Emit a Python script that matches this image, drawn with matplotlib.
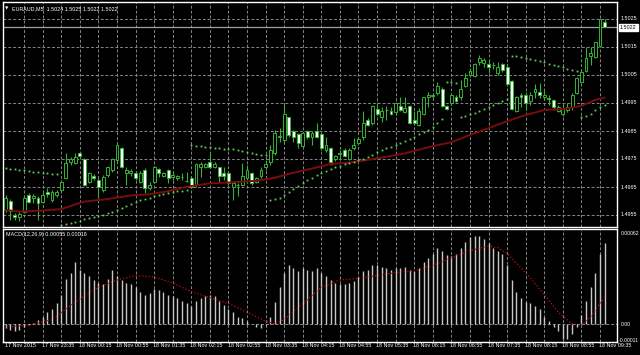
import matplotlib
matplotlib.use("Agg")
import matplotlib.pyplot as plt
from matplotlib import font_manager
from matplotlib.transforms import blended_transform_factory

# ── data (EURAUD M5, 130 bars) ──
opens = [1.49568, 1.49601, 1.49550, 1.49542, 1.49562, 1.49621, 1.49610, 1.49612, 1.49598, 1.49633,
         1.49604, 1.49621, 1.49639, 1.49681, 1.49740, 1.49735, 1.49773, 1.49749, 1.49669, 1.49690,
         1.49675, 1.49639, 1.49693, 1.49711, 1.49746, 1.49788, 1.49699, 1.49699, 1.49701, 1.49669,
         1.49711, 1.49645, 1.49669, 1.49713, 1.49689, 1.49711, 1.49685, 1.49681, 1.49685, 1.49672,
         1.49681, 1.49657, 1.49720, 1.49720, 1.49739, 1.49723, 1.49720, 1.49699, 1.49699, 1.49649,
         1.49656, 1.49657, 1.49681, 1.49701, 1.49669, 1.49689, 1.49720, 1.49741, 1.49770, 1.49827,
         1.49818, 1.49899, 1.49850, 1.49838, 1.49796, 1.49850, 1.49830, 1.49851, 1.49839, 1.49782,
         1.49790, 1.49749, 1.49769, 1.49782, 1.49749, 1.49788, 1.49808, 1.49827, 1.49889, 1.49877,
         1.49927, 1.49899, 1.49924, 1.49923, 1.49919, 1.49939, 1.49919, 1.49939, 1.49889, 1.49871,
         1.49911, 1.49970, 1.49975, 1.49987, 1.49999, 1.49939, 1.49949, 1.49973, 1.49970, 1.50011,
         1.50050, 1.50048, 1.50098, 1.50094, 1.50089, 1.50084, 1.50058, 1.50089, 1.50077, 1.50029,
         1.49923, 1.49977, 1.49979, 1.49958, 1.49988, 1.49990, 1.49970, 1.49968, 1.49961, 1.49923,
         1.49911, 1.49925, 1.49937, 1.49987, 1.50026, 1.50065, 1.50118, 1.50115, 1.50154, 1.50240]
highs = [1.49621, 1.49606, 1.49556, 1.49562, 1.49621, 1.49627, 1.49624, 1.49618, 1.49633, 1.49645,
         1.49639, 1.49639, 1.49675, 1.49770, 1.49758, 1.49773, 1.49776, 1.49752, 1.49705, 1.49696,
         1.49681, 1.49693, 1.49725, 1.49752, 1.49806, 1.49794, 1.49723, 1.49713, 1.49707, 1.49707,
         1.49717, 1.49669, 1.49725, 1.49717, 1.49705, 1.49713, 1.49705, 1.49693, 1.49699, 1.49705,
         1.49687, 1.49735, 1.49741, 1.49735, 1.49776, 1.49741, 1.49723, 1.49723, 1.49705, 1.49669,
         1.49663, 1.49735, 1.49729, 1.49705, 1.49685, 1.49723, 1.49746, 1.49800, 1.49854, 1.49860,
         1.49943, 1.49901, 1.49854, 1.49842, 1.49848, 1.49854, 1.49850, 1.49880, 1.49842, 1.49830,
         1.49794, 1.49764, 1.49782, 1.49788, 1.49788, 1.49824, 1.49830, 1.49923, 1.49895, 1.49943,
         1.49955, 1.49937, 1.49939, 1.49937, 1.49955, 1.49970, 1.49970, 1.49943, 1.49923, 1.49931,
         1.49973, 1.49990, 1.49985, 1.50026, 1.50008, 1.49943, 1.49985, 1.49979, 1.50032, 1.50056,
         1.50074, 1.50092, 1.50121, 1.50109, 1.50104, 1.50098, 1.50098, 1.50092, 1.50080, 1.50032,
         1.49975, 1.49984, 1.49990, 1.49990, 1.50018, 1.50020, 1.49996, 1.49979, 1.49963, 1.49943,
         1.49943, 1.49949, 1.49984, 1.50044, 1.50068, 1.50149, 1.50149, 1.50169, 1.50249, 1.50250]
lows = [1.49562, 1.49532, 1.49532, 1.49530, 1.49556, 1.49594, 1.49592, 1.49532, 1.49594, 1.49615,
        1.49598, 1.49613, 1.49637, 1.49677, 1.49729, 1.49731, 1.49758, 1.49654, 1.49663, 1.49675,
        1.49610, 1.49633, 1.49687, 1.49705, 1.49740, 1.49717, 1.49657, 1.49689, 1.49675, 1.49663,
        1.49627, 1.49639, 1.49665, 1.49687, 1.49685, 1.49663, 1.49675, 1.49675, 1.49675, 1.49669,
        1.49645, 1.49651, 1.49687, 1.49717, 1.49717, 1.49717, 1.49669, 1.49675, 1.49657, 1.49604,
        1.49618, 1.49654, 1.49675, 1.49657, 1.49666, 1.49681, 1.49711, 1.49729, 1.49764, 1.49812,
        1.49812, 1.49830, 1.49812, 1.49788, 1.49788, 1.49823, 1.49800, 1.49824, 1.49782, 1.49776,
        1.49729, 1.49744, 1.49746, 1.49758, 1.49746, 1.49782, 1.49800, 1.49818, 1.49868, 1.49871,
        1.49907, 1.49883, 1.49889, 1.49907, 1.49907, 1.49923, 1.49915, 1.49875, 1.49871, 1.49868,
        1.49907, 1.49937, 1.49967, 1.49979, 1.49937, 1.49925, 1.49943, 1.49955, 1.49961, 1.50008,
        1.50044, 1.50044, 1.50086, 1.50080, 1.50056, 1.50070, 1.50050, 1.50062, 1.50014, 1.49925,
        1.49919, 1.49937, 1.49925, 1.49943, 1.49967, 1.49967, 1.49961, 1.49943, 1.49925, 1.49919,
        1.49904, 1.49919, 1.49925, 1.49982, 1.50023, 1.50062, 1.50086, 1.50112, 1.50152, 1.50220]
closes = [1.49610, 1.49564, 1.49542, 1.49554, 1.49610, 1.49598, 1.49619, 1.49592, 1.49621, 1.49624,
          1.49633, 1.49633, 1.49669, 1.49735, 1.49749, 1.49758, 1.49761, 1.49657, 1.49699, 1.49681,
          1.49649, 1.49687, 1.49720, 1.49749, 1.49800, 1.49723, 1.49711, 1.49708, 1.49681, 1.49701,
          1.49645, 1.49657, 1.49720, 1.49699, 1.49701, 1.49681, 1.49693, 1.49689, 1.49686, 1.49673,
          1.49651, 1.49732, 1.49732, 1.49731, 1.49720, 1.49731, 1.49689, 1.49689, 1.49663, 1.49663,
          1.49658, 1.49689, 1.49711, 1.49666, 1.49681, 1.49711, 1.49731, 1.49782, 1.49842, 1.49832,
          1.49911, 1.49836, 1.49827, 1.49808, 1.49842, 1.49827, 1.49842, 1.49827, 1.49788, 1.49800,
          1.49740, 1.49761, 1.49771, 1.49761, 1.49782, 1.49800, 1.49821, 1.49880, 1.49871, 1.49939,
          1.49911, 1.49921, 1.49926, 1.49911, 1.49949, 1.49925, 1.49931, 1.49880, 1.49880, 1.49923,
          1.49970, 1.49979, 1.49977, 1.50011, 1.49939, 1.49927, 1.49979, 1.49958, 1.49999, 1.50040,
          1.50064, 1.50089, 1.50109, 1.50104, 1.50077, 1.50087, 1.50077, 1.50068, 1.50018, 1.49927,
          1.49970, 1.49970, 1.49949, 1.49979, 1.50000, 1.49979, 1.49979, 1.49966, 1.49937, 1.49935,
          1.49927, 1.49937, 1.49979, 1.50038, 1.50062, 1.50109, 1.50130, 1.50169, 1.50249, 1.50220]

# parabolic SAR dots, one per bar
sar = [1.49717, 1.49715, 1.49713, 1.49711, 1.49709, 1.49707, 1.49705, 1.49703, 1.49701, 1.49699,
       1.49697, 1.49695, 1.49515, 1.49518, 1.49522, 1.49526, 1.49530, 1.49534, 1.49538, 1.49542,
       1.49546, 1.49551, 1.49556, 1.49562, 1.49568, 1.49576, 1.49583, 1.49590, 1.49596, 1.49602,
       1.49607, 1.49612, 1.49617, 1.49621, 1.49625, 1.49628, 1.49631, 1.49634, 1.49637, 1.49640,
       1.49800, 1.49798, 1.49796, 1.49794, 1.49792, 1.49790, 1.49788, 1.49787, 1.49786, 1.49785,
       1.49783, 1.49778, 1.49775, 1.49771, 1.49768, 1.49766, 1.49764, 1.49604, 1.49606, 1.49612,
       1.49620, 1.49632, 1.49643, 1.49654, 1.49664, 1.49674, 1.49683, 1.49692, 1.49700, 1.49708,
       1.49715, 1.49720, 1.49726, 1.49731, 1.49736, 1.49741, 1.49746, 1.49751, 1.49758, 1.49765,
       1.49776, 1.49782, 1.49788, 1.49794, 1.49800, 1.49808, 1.49815, 1.49822, 1.49830, 1.49838,
       1.49846, 1.49855, 1.49866, 1.49878, 1.49892, 1.50026, 1.50024, 1.50022, 1.49899, 1.49904,
       1.49910, 1.49915, 1.49920, 1.49927, 1.49934, 1.49942, 1.49950, 1.49958, 1.49966, 1.50119,
       1.50117, 1.50114, 1.50111, 1.50107, 1.50103, 1.50099, 1.50095, 1.50091, 1.50087, 1.50082,
       1.50077, 1.50072, 1.50068, 1.50065, 1.49899, 1.49904, 1.49911, 1.49925, 1.49937, 1.49943]

# moving average (dark red line), read at a subset of bars
ma_bars = [0, 3, 7, 12, 15, 17, 22, 27, 31, 35, 39, 44, 49, 54, 58, 61, 66, 70, 74, 80,
           86, 91, 96, 100, 104, 108, 112, 116, 120, 124, 127, 129]
ma_vals = [1.49568, 1.49562, 1.49565, 1.49571, 1.49588, 1.49598, 1.49607, 1.49620, 1.49624, 1.49635,
           1.49651, 1.49663, 1.49667, 1.49672, 1.49683, 1.49697, 1.49716, 1.49732, 1.49737, 1.49752,
           1.49770, 1.49792, 1.49810, 1.49836, 1.49860, 1.49885, 1.49907, 1.49925, 1.49928, 1.49940,
           1.49961, 1.49969]

# MACD(12,26,9) histogram, one per bar (x 1e-5)
macd_hist = [-3, -4, -5, -4, -2, -1, 1, 3, 5, 8, 10, 14, 20, 31, 35, 42, 37, 35, 33, 30,
             28, 27, 31, 37, 33, 30, 28, 27, 25, 22, 20, 21, 24, 23, 22, 20, 19, 18, 16, 14,
             12, 16, 18, 19, 20, 19, 16, 13, 10, 8, 5, 4, 2, 0, -2, -3, -1, 5, 15, 25,
             35, 40, 38, 36, 38, 37, 36, 38, 35, 33, 30, 28, 27, 27, 28, 29, 32, 36, 37, 40,
             40, 39, 38, 37, 38, 38, 39, 37, 36, 38, 42, 45, 48, 52, 50, 47, 46, 48, 52, 56,
             59, 60, 60, 58, 55, 52, 50, 48, 40, 30, 22, 18, 15, 14, 12, 10, 5, 2, -2, -5,
             -10, -10, -7, -2, 6, 16, 25, 35, 48, 55]
# signal line (red dots), read at a subset of bars (x 1e-5)
sig_bars = [0, 5, 10, 15, 20, 24, 28, 32, 36, 40, 44, 48, 52, 56, 58, 60, 64, 68, 72, 76,
            80, 84, 88, 92, 96, 100, 104, 106, 108, 112, 116, 119, 122, 124, 126, 128, 129]
sig_vals = [-2, -1, 3, 15, 25, 30, 33, 32, 28, 22, 18, 14, 8, 2, 0, 3, 14, 25, 30, 31,
            33, 35, 36, 40, 45, 50, 53, 52, 48, 35, 20, 8, 0, -1, 5, 14, 18]

price_levels = [1.4955, 1.4965, 1.4975, 1.4985, 1.4995, 1.5005, 1.5015, 1.5025]
time_labels = ["17 Nov 2015", "17 Nov 23:35", "18 Nov 00:15", "18 Nov 00:55", "18 Nov 01:35",
               "18 Nov 02:15", "18 Nov 02:55", "18 Nov 03:35", "18 Nov 04:15", "18 Nov 04:55",
               "18 Nov 05:35", "18 Nov 06:15", "18 Nov 06:55", "18 Nov 07:35", "18 Nov 08:15",
               "18 Nov 08:55", "18 Nov 09:35"]
last_price = 1.5022

# ── layout (pixels of a 640x355 canvas) ──
W, H = 640, 355
BAR0_PX, BAR_PX = 5.55, 4.644          # x of bar 0, spacing
PANE_L, PANE_R = 3, 617
MAIN_T, MAIN_B = 2, 227
MACD_T, MACD_B = 229, 342
P_REF, P_REF_Y, PX_PER_PRICE = 1.5025, 19.0, 28000.0
M_ZERO_Y, PX_PER_MACD = 324.0, 146774.0

GREEN = "#34b334"
SAR_C = "#5fd35a"
GRID_C = "#858585"
MA_C = "#7a0c0c"

names = {f.name for f in font_manager.fontManager.ttflist}
if "Liberation Sans Narrow" in names:
    FONT, FS = "Liberation Sans Narrow", 4.8
else:
    FONT, FS = "Liberation Sans", 3.9
plt.rcParams["font.family"] = [FONT, "DejaVu Sans"]

fig = plt.figure(figsize=(W / 100, H / 100), dpi=100, facecolor="black")


def add_pane(top, bot):
    a = fig.add_axes([PANE_L / W, 1 - bot / H, (PANE_R - PANE_L) / W, (bot - top) / H])
    a.set_facecolor("black")
    for s in a.spines.values():
        s.set_color("white")
        s.set_linewidth(1.0)
    a.set_xticks([])
    a.set_yticks([])
    a.set_xlim((PANE_L - BAR0_PX) / BAR_PX, (PANE_R - BAR0_PX) / BAR_PX)
    return a


ax = add_pane(MAIN_T, MAIN_B)
ax.set_ylim(P_REF - (MAIN_B - P_REF_Y) / PX_PER_PRICE, P_REF + (P_REF_Y - MAIN_T) / PX_PER_PRICE)
ax2 = add_pane(MACD_T, MACD_B)
ax2.set_ylim(-(MACD_B - M_ZERO_Y) / PX_PER_MACD, (M_ZERO_Y - MACD_T) / PX_PER_MACD)

dash = (0, (3, 2))
for a in (ax, ax2):
    for i in range(4, len(closes), 4):
        a.axvline(i, color=GRID_C, lw=0.7, ls=dash, zorder=0)
for p in price_levels:
    ax.axhline(p, color=GRID_C, lw=0.7, ls=dash, zorder=0)
ax2.axhline(0, color=GRID_C, lw=0.7, ls=dash, zorder=0)

# candles
xs = list(range(len(closes)))
ax.vlines(xs, lows, highs, color=GREEN, lw=0.8, zorder=2)
for i in xs:
    o, c = opens[i], closes[i]
    face = "white" if c < o else "black"
    ax.bar(i, max(abs(c - o), 1e-6), bottom=min(o, c), width=0.62,
           facecolor=face, edgecolor=GREEN, linewidth=0.7, zorder=3)

ax.plot(ma_bars, ma_vals, color=MA_C, lw=1.4, zorder=4, solid_capstyle="round")
ax.plot(xs, sar, ls="none", marker="s", ms=1.3, mfc=SAR_C, mec=SAR_C, mew=0, zorder=4)
ax.axhline(last_price, color="#a0a0a0", lw=0.9, zorder=1)

# MACD pane
ax2.vlines(xs, 0, [v * 1e-5 for v in macd_hist], color="#c8c8c8", lw=1.0, zorder=2)
ax2.plot(sig_bars, [v * 1e-5 for v in sig_vals], color="#c81010", lw=0.9,
         ls=(0, (1, 1.6)), zorder=3)

# right-hand scales
tr_main = blended_transform_factory(fig.transFigure, ax.transData)
for p in price_levels:
    ax.text(621 / W, p, f"{p:.4f}", transform=tr_main, color="white", fontsize=FS,
            ha="left", va="center", clip_on=False)
ax.text(620 / W, last_price, f"{last_price:.4f}", transform=tr_main, color="black",
        fontsize=FS, ha="left", va="center", clip_on=False,
        bbox=dict(boxstyle="square,pad=0.25", facecolor="white", edgecolor="white"))

tr_macd = blended_transform_factory(fig.transFigure, ax2.transData)
for v, lab, x0 in [(0.00062, "0.00062", 621), (0.0, "0.00", 621), (-0.00011, "-0.00011", 619)]:
    ax2.text(x0 / W, v, lab, transform=tr_macd, color="white", fontsize=FS * 0.95,
             ha="left", va="center", clip_on=False)

# time axis
tr_time = blended_transform_factory(ax2.transData, fig.transFigure)
for k, lab in enumerate(time_labels):
    i = 8 * k
    ax2.text(i - 0.2, 1 - 345.5 / H, lab, transform=tr_time, color="white", fontsize=FS,
             ha="left", va="center", clip_on=False)

# headers
fig.text(5 / W, 1 - 8.5 / H, "\u25bc", color="white", fontsize=FS * 0.8,
         ha="left", va="center", family=["DejaVu Sans"])
fig.text(12 / W, 1 - 9 / H, "EURAUD,M5  1.5024 1.5025 1.5022 1.5022", color="white",
         fontsize=FS, ha="left", va="center")
fig.text(6 / W, 1 - 234.5 / H, "MACD(12,26,9) 0.00055 0.00018", color="white",
         fontsize=FS, ha="left", va="center")

fig.savefig("out.png", dpi=100, facecolor="black")
